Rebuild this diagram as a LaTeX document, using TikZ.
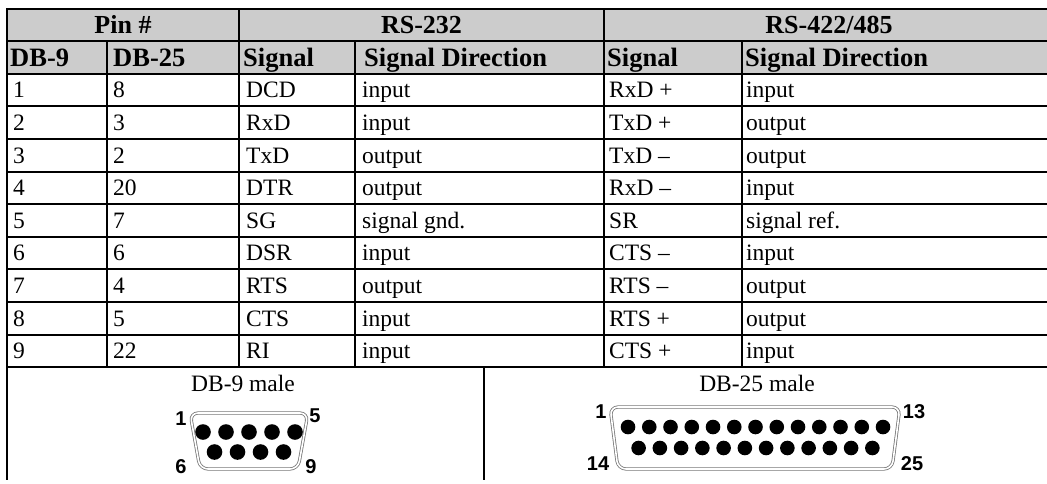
\documentclass[tikz,border=0pt]{standalone}
\usepackage{fontspec}
\setmainfont{Liberation Serif}
\newfontfamily\pinfont{Liberation Sans}
\definecolor{hdr}{RGB}{204,204,204}
\definecolor{shell}{RGB}{120,120,120}
\begin{document}
\begin{tikzpicture}[x=1pt,y=-1pt,
  grid/.style={line width=2pt, line cap=rect},
  cell/.style={anchor=base west, inner sep=0pt, font=\fontsize{23.5}{26}\selectfont},
  headcell/.style={anchor=base west, inner sep=0pt, font=\fontsize{26.5}{28}\selectfont\bfseries},
  headtop/.style={anchor=base, inner sep=0pt, font=\fontsize{26}{28}\selectfont\bfseries},
  caption/.style={anchor=base, inner sep=0pt, font=\fontsize{23.5}{26}\selectfont},
  pinlabel/.style={inner sep=0pt, font=\pinfont\bfseries\fontsize{20}{22}\selectfont, text=black},
  shellline/.style={draw=shell, line width=0.8pt, double=white, double distance=1.6pt, rounded corners=8pt},
  pin/.style={fill=black}]
\useasboundingbox (0,0) rectangle (1047,483);
\begin{scope}
\clip (0,0) rectangle (1047,483);
% header background
\fill[hdr] (7,8.5) rectangle (1054,73.7);
% horizontal rules
\foreach \i in {0,...,11} \draw[grid] (7,{8.5+32.6*\i}) -- (1054,{8.5+32.6*\i});
% vertical rules
\draw[grid] (7,8.5) -- (7,479);
\draw[grid] (239,8.5) -- (239,367.1);
\draw[grid] (604,8.5) -- (604,367.1);
\draw[grid] (1054,8.5) -- (1054,367.1);
\foreach \x in {107,355,742} \draw[grid] (\x,41.1) -- (\x,367.1);
\draw[grid] (484,367.1) -- (484,479);
\end{scope}
% header row 1
\node[headtop] (hpin) at (123,33.3) {Pin \#};
\node[headtop] (h232) at (421.5,33.3) {RS-232};
\node[headtop] (h422) at (829,33.3) {RS-422/485};
% header row 2
\node[headcell] (hdb9) at (10,66) {DB-9};
\node[headcell] (hdb25) at (113,66) {DB-25};
\node[headcell] (hsig1) at (243,66) {Signal};
\node[headcell] (hdir1) at (364,66) {Signal Direction};
\node[headcell] (hsig2) at (607,66) {Signal};
\node[headcell] (hdir2) at (745,66) {Signal Direction};
% data rows
\foreach \n/\a/\b/\c/\d/\e in {
  1/8/DCD/input/RxD +/input,
  2/3/RxD/input/TxD +/output,
  3/2/TxD/output/TxD --/output,
  4/20/DTR/output/RxD --/input,
  5/7/SG/signal gnd./SR/signal ref.,
  6/6/DSR/input/CTS --/input,
  7/4/RTS/output/RTS --/output,
  8/5/CTS/input/RTS +/output,
  9/22/RI/input/CTS +/input}{
  \pgfmathsetmacro{\yb}{8.5+32.6*(\n+1.5)+7.8}
  \node[cell] (r\n c1) at (13,\yb) {\n};
  \node[cell] (r\n c2) at (113,\yb) {\a};
  \node[cell] (r\n c3) at (246,\yb) {\b};
  \node[cell] (r\n c4) at (362,\yb) {\c};
  \node[cell] (r\n c5) at (609,\yb) {\d};
  \node[cell] (r\n c6) at (746,\yb) {\e};
}
% captions
\node[caption] (cap9) at (243,391) {DB-9 male};
\node[caption] (cap25) at (757,391) {DB-25 male};
% DB-9 connector
\draw[shellline] (190,413) -- (308,413) -- (298,469) -- (200,469) -- cycle;
\foreach \k in {0,...,4} \fill[pin] ({203+23*\k},432) circle (7.8);
\foreach \k in {0,...,3} \fill[pin] ({214.5+23*\k},452) circle (7.8);
\node[pinlabel] (p9a) at (181,419) {1};
\node[pinlabel] (p9b) at (315,416) {5};
\node[pinlabel] (p9c) at (181,467) {6};
\node[pinlabel] (p9d) at (311,467) {9};
% DB-25 connector
\draw[shellline] (610,407) -- (900,407) -- (892,469) -- (618,469) -- cycle;
\foreach \k in {0,...,12} \fill[pin] ({628+21.25*\k},427) circle (7.3);
\foreach \k in {0,...,11} \fill[pin] ({638.6+21.25*\k},448) circle (7.3);
\node[pinlabel] (p25a) at (601,412) {1};
\node[pinlabel] (p25b) at (914,412) {13};
\node[pinlabel] (p25c) at (598,464) {14};
\node[pinlabel] (p25d) at (912,464) {25};
\end{tikzpicture}
\end{document}
